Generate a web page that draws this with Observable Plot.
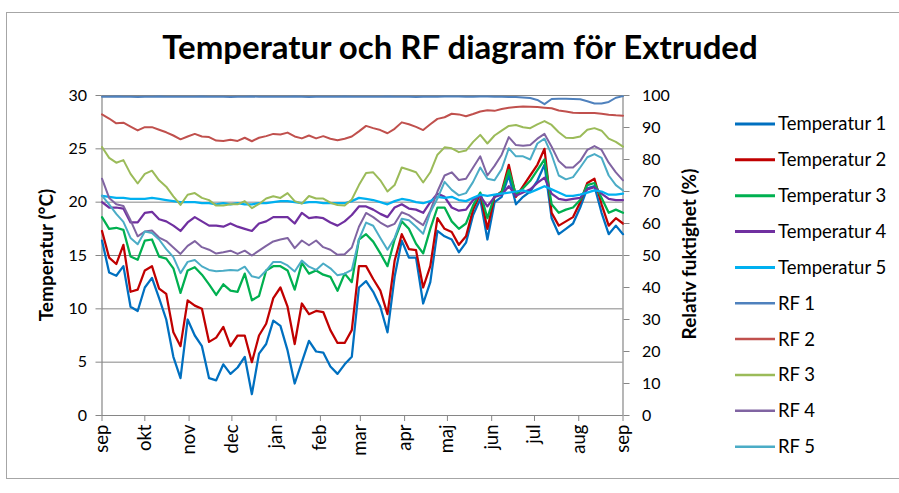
<!DOCTYPE html>
<html>
<head>
<meta charset="utf-8">
<script src="https://cdn.jsdelivr.net/npm/d3@7"></script>
<script src="https://cdn.jsdelivr.net/npm/@observablehq/plot@0.6"></script>
<style>
  html, body { margin: 0; padding: 0; background: #fff; }
  body { width: 899px; height: 493px; position: relative; overflow: hidden; font-family: Lato, "Open Sans", sans-serif; }
  #frame { position: absolute; left: 6px; top: 12px; width: 1000px; height: 467px; border: 1px solid #a6a6a6; box-sizing: border-box; }
  #chart { position: absolute; left: 0; top: 0; }
  #overlay { position: absolute; left: 0; top: 0; pointer-events: none; }
</style>
</head>
<body>
<div id="frame"></div>
<div id="chart"></div>
<svg id="overlay" width="899" height="493"></svg>
<script>
// ---- data (5-day steps from 1 Sep) ----
const titleText = "Temperatur och RF diagram för Extruded";
const monthLabels = ["sep","okt","nov","dec","jan","feb","mar","apr","maj","jun","jul","aug","sep"];
const tempTicks = [0, 5, 10, 15, 20, 25, 30];
const rfTicks = [0, 10, 20, 30, 40, 50, 60, 70, 80, 90, 100];
const dayOffsets = d3.range(0, 366, 5);

const temp1 = [16.4,13.4,13.1,14.0,10.2,9.8,12.0,12.9,11.0,9.0,5.5,3.5,9.0,
  7.5,6.5,3.5,3.3,4.8,3.9,4.5,5.5,2.0,5.8,6.7,8.9,
  8.4,6.1,3.0,5.0,7.0,6.0,5.9,4.6,3.9,4.8,5.5,12.0,
  12.6,11.6,10.2,7.8,13.0,16.4,14.8,14.8,10.5,12.5,17.3,16.8,
  16.5,15.3,16.2,18.8,20.3,16.5,20.0,20.5,22.5,19.8,20.5,21.0,
  22.0,23.5,18.5,17.0,17.5,18.0,19.5,21.3,21.5,19.0,17.0,17.8,17.0];
const temp2 = [17.3,14.8,14.2,16.0,11.6,11.8,13.6,14.0,11.9,11.4,7.8,6.5,10.8,
  10.3,10.0,6.9,7.3,8.3,6.5,7.5,7.5,5.0,7.5,8.6,11.0,
  12.0,10.2,6.7,10.5,9.5,9.8,9.7,8.0,6.8,6.8,8.0,14.0,
  14.0,12.8,11.7,9.5,14.5,17.0,15.6,15.5,12.0,14.0,18.5,17.5,
  17.2,16.0,16.8,19.3,20.8,17.5,20.5,21.0,23.5,20.5,21.5,22.5,
  23.5,25.0,19.0,17.8,18.2,18.6,20.0,21.8,22.2,19.8,17.8,18.5,18.0];
const temp3 = [18.6,17.5,17.6,17.4,14.9,14.6,16.4,16.5,14.9,14.7,13.8,11.5,13.6,
  13.9,13.2,12.3,11.3,12.3,11.7,11.6,13.3,10.8,11.2,13.6,14.0,
  14.0,13.6,11.8,14.3,13.3,13.6,13.2,13.0,11.7,13.3,12.5,16.5,
  17.0,16.3,15.2,14.0,16.5,18.2,17.5,16.1,15.2,17.5,19.5,19.5,
  18.2,17.5,18.0,19.7,20.9,18.5,20.6,20.9,23.0,20.7,21.3,22.0,
  23.0,24.0,19.8,19.0,19.3,19.5,20.2,21.6,21.8,20.4,19.0,19.3,19.0];
const temp4 = [20.0,19.5,19.5,19.4,18.1,18.1,19.0,19.1,18.4,18.2,17.8,17.3,18.1,
  18.6,18.2,17.8,17.8,17.7,18.0,17.7,17.5,17.3,18.0,18.2,18.6,
  18.6,18.6,18.0,19.0,18.5,18.6,18.5,18.1,17.8,18.2,18.8,19.6,
  19.6,19.3,18.9,18.6,19.5,19.8,19.4,19.3,19.0,20.0,20.8,20.5,
  19.5,19.2,19.3,20.2,20.6,19.6,20.5,20.7,21.5,20.6,20.9,21.2,
  21.8,22.3,20.8,20.3,20.2,20.3,20.4,21.2,21.4,20.8,20.3,20.2,20.2];
const temp5 = [20.6,20.5,20.4,20.4,20.3,20.3,20.3,20.4,20.3,20.2,20.1,20.0,20.0,
  20.0,19.9,19.9,19.8,19.9,19.8,19.9,19.8,19.8,19.9,19.9,20.0,
  20.1,20.1,20.0,19.9,20.0,20.0,19.9,19.9,19.9,19.9,20.1,20.4,
  20.3,20.2,20.0,19.8,20.1,20.3,20.2,20.0,19.9,20.1,20.5,20.4,
  20.5,20.2,20.1,20.4,20.7,20.6,20.7,20.8,20.9,21.0,21.1,20.9,
  21.2,21.5,21.2,20.9,20.6,20.6,20.7,20.9,21.1,21.0,20.7,20.7,20.8];
const rf1 = [99.6,99.6,99.7,99.6,99.6,99.5,99.6,99.6,99.7,99.6,99.6,99.6,99.6,
  99.6,99.7,99.6,99.6,99.6,99.5,99.6,99.6,99.7,99.6,99.6,99.6,
  99.6,99.6,99.7,99.6,99.5,99.6,99.6,99.6,99.6,99.7,99.6,99.6,
  99.6,99.6,99.6,99.7,99.6,99.6,99.6,99.5,99.6,99.6,99.6,99.7,
  99.7,99.7,99.6,99.6,99.7,99.7,99.6,99.6,99.5,99.5,99.4,99.2,
  98.6,97.3,98.9,99.0,99.0,98.9,98.8,98.2,97.5,97.5,98.0,99.3,99.8];
const rf2 = [94.1,92.8,91.3,91.5,90.3,89.1,90.1,90.1,89.3,88.5,87.5,86.3,87.2,
  88.0,87.2,87.0,85.9,85.8,86.2,85.8,86.8,85.7,86.8,87.3,88.0,
  87.8,88.4,87.2,86.6,87.5,86.6,87.3,86.5,86.0,86.5,87.2,88.8,
  90.5,89.8,89.2,88.2,89.6,91.6,91.0,90.2,89.2,91.0,92.7,93.2,
  94.3,94.1,93.5,94.2,95.0,95.4,95.2,95.8,96.2,96.4,96.6,96.5,
  96.4,96.2,96.0,95.3,95.0,94.6,94.5,94.5,94.5,94.3,94.0,93.8,93.7];
const rf3 = [83.9,80.5,79.0,79.8,75.5,72.5,75.5,76.5,73.5,71.5,68.5,65.8,69.0,
  69.5,68.0,67.3,65.6,65.6,66.0,66.0,67.0,64.8,66.1,67.8,68.5,
  68.0,69.5,67.0,66.2,68.6,67.8,67.8,66.5,65.8,65.6,67.5,72.0,
  75.8,76.0,73.5,70.0,72.0,77.5,76.8,76.0,72.8,76.0,81.5,83.8,
  83.5,82.3,82.8,85.5,87.7,85.0,87.5,89.0,90.5,90.8,90.1,89.8,
  91.0,92.0,90.8,88.5,86.8,86.7,87.2,89.3,89.8,89.0,86.5,85.5,84.0];
const rf4 = [74.0,68.0,66.0,65.5,61.0,56.0,57.5,57.8,55.6,54.5,52.5,50.5,53.0,
  54.5,52.6,51.8,50.6,51.0,51.5,50.5,51.5,50.0,51.5,53.0,54.4,
  55.0,55.5,52.3,54.7,53.2,54.7,52.6,51.8,50.2,50.4,52.5,59.0,
  63.3,62.0,60.3,59.0,59.9,63.5,62.6,61.0,59.5,64.0,70.0,75.0,
  76.0,73.6,74.0,77.5,81.0,75.0,78.0,81.5,87.0,84.5,84.3,84.5,
  86.5,88.0,84.0,79.5,77.5,77.5,79.5,83.0,84.2,83.0,79.0,76.0,73.5];
const rf5 = [68.7,66.0,63.0,60.5,55.5,53.5,57.5,57.0,55.0,52.0,49.5,44.5,48.0,
  48.6,46.6,45.5,45.1,45.2,45.5,45.3,46.5,43.5,43.0,45.3,48.0,
  48.0,46.9,45.0,48.4,46.5,45.5,47.5,46.0,43.8,44.3,45.5,55.0,
  60.3,59.3,55.5,51.8,55.5,61.5,61.0,59.0,56.8,63.5,67.8,73.0,
  70.5,68.8,69.5,73.0,77.5,74.0,73.5,77.0,83.5,81.0,81.0,80.0,
  85.0,86.5,81.5,75.0,73.8,74.5,77.5,80.7,81.7,80.5,75.0,72.0,70.3];

const tempNames = ["Temperatur 1","Temperatur 2","Temperatur 3","Temperatur 4","Temperatur 5"];
const rfNames = ["RF 1","RF 2","RF 3","RF 4","RF 5"];
const tempColors = ["#0070C0","#C00000","#00B050","#7030A0","#00B0F0"];
const rfColors = ["#4F81BD","#C0504D","#9BBB59","#8064A2","#4BACC6"];
const tempValues = [temp1, temp2, temp3, temp4, temp5];
const rfValues = [rf1, rf2, rf3, rf4, rf5];

// ---- build ----
const start = new Date(Date.UTC(2010, 8, 1));
const end = new Date(Date.UTC(2011, 8, 1));
const dates = dayOffsets.map(d => new Date(start.getTime() + d * 864e5));
const monthTicks = monthLabels.map((m, i) => new Date(Date.UTC(2010, 8 + i, 1)));
const monthMap = new Map(monthTicks.map((d, i) => [+d, monthLabels[i]]));
const RF2T = 30 / 100;

const rows = (vals, k) => dates.map((d, i) => ({x: d, y: vals[i] * k}));

const gridCol = "#868686";
const font = "Lato, 'Open Sans', sans-serif";
const plot = Plot.plot({
  width: 899,
  height: 493,
  marginLeft: 101.5,
  marginRight: 276.5,
  marginTop: 95,
  marginBottom: 78,
  style: {fontFamily: font, fontSize: "16px", background: "transparent", color: "#000"},
  x: {type: "utc", domain: [start, end]},
  y: {domain: [0, 30]},
  marks: [
    Plot.gridY(tempTicks, {stroke: gridCol, strokeOpacity: 1, strokeWidth: 1}),
    Plot.ruleX([start, end], {stroke: gridCol, strokeWidth: 1.2}),
    Plot.ruleY([0], {stroke: gridCol, strokeWidth: 1.2}),
    ...tempValues.map((v, j) => Plot.line(rows(v, 1), {x: "x", y: "y", stroke: tempColors[j], strokeWidth: 2.25})),
    ...rfValues.map((v, j) => Plot.line(rows(v, RF2T), {x: "x", y: "y", stroke: rfColors[j], strokeWidth: 2})),
    Plot.axisY(tempTicks, {anchor: "left", tickSize: 6, tickPadding: 9, stroke: gridCol, fill: "#000", fontSize: 16, label: null}),
    Plot.axisY(rfTicks.map(v => v * RF2T), {anchor: "right", tickSize: 6, tickPadding: 13, stroke: gridCol, fill: "#000", fontSize: 16, label: null,
      tickFormat: d => String(Math.round(d / RF2T)), textAnchor: "start"}),
    Plot.axisX(monthTicks, {anchor: "bottom", tickSize: 6, tickPadding: 3, tickRotate: -90, stroke: gridCol, fill: "#000", fontSize: 18.5, label: null,
      tickFormat: d => monthMap.get(+d)})
  ]
});
document.getElementById("chart").appendChild(plot);

// ---- title, axis titles, legend ----
const ov = d3.select("#overlay");
ov.append("text").attr("x", 460).attr("y", 59).attr("text-anchor", "middle")
  .attr("font-family", font).attr("font-weight", "bold").attr("font-size", 33)
  .text(titleText);
ov.append("text").attr("transform", "translate(53,255) rotate(-90)").attr("text-anchor", "middle")
  .attr("font-family", font).attr("font-weight", "bold").attr("font-size", 19)
  .text("Temperatur (°C)");
ov.append("text").attr("transform", "translate(696,254) rotate(-90)").attr("text-anchor", "middle")
  .attr("font-family", font).attr("font-weight", "bold").attr("font-size", 19)
  .text("Relativ fuktighet (%)");

const legendItems = [
  ...tempNames.map((n, i) => ({name: n, color: tempColors[i], w: 3})),
  ...rfNames.map((n, i) => ({name: n, color: rfColors[i], w: 2.5}))
];
legendItems.forEach((it, i) => {
  const y = 124 + i * 35.85;
  ov.append("line").attr("x1", 735).attr("x2", 775).attr("y1", y).attr("y2", y)
    .attr("stroke", it.color).attr("stroke-width", it.w);
  ov.append("text").attr("x", 778).attr("y", y).attr("dy", "0.35em")
    .attr("font-family", font).attr("font-size", 18.5).attr("fill", "#000")
    .text(it.name);
});
</script>
</body>
</html>
